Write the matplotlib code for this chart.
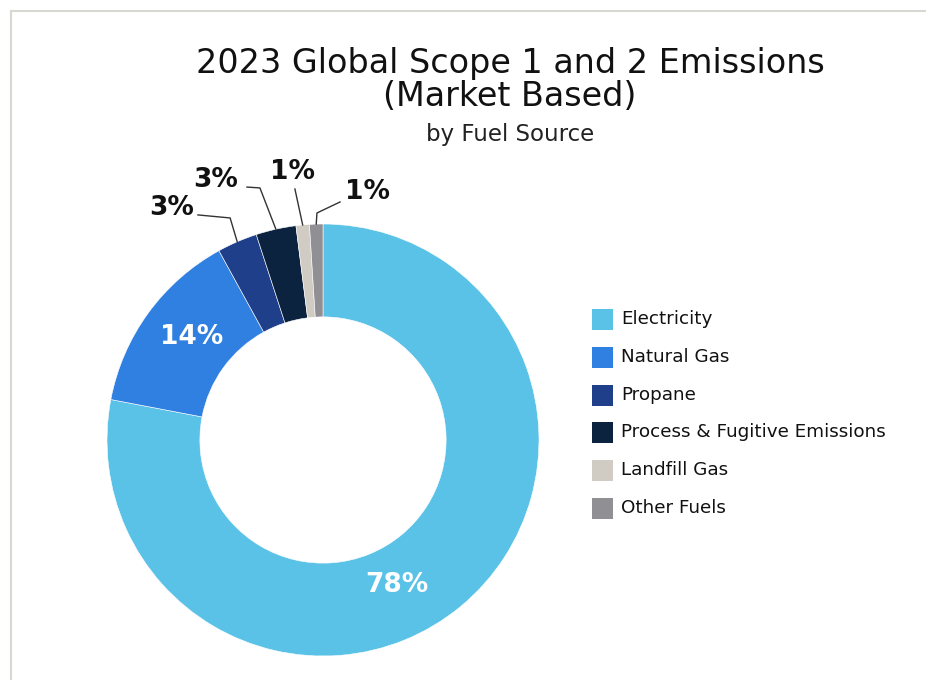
import matplotlib
matplotlib.use("Agg")
import matplotlib.pyplot as plt
from matplotlib.patches import Rectangle
import numpy as np

plt.rcParams["font.family"] = ["DejaVu Sans"]

# Emissions share by fuel source (%)
sources = ["Electricity", "Natural Gas", "Propane", "Process & Fugitive Emissions",
           "Landfill Gas", "Other Fuels"]
shares = [78, 14, 3, 3, 1, 1]
colors = ["#5BC2E7", "#2F80E0", "#1F3F8A", "#0C2340", "#D0CCC4", "#8F8F94"]

# label placement: inside labels for the big slices, leader lines for the small ones
inside_pos = {0: (0.343, -0.671), 1: (-0.606, 0.477)}
outside_pos = {
    2: [(-0.43, 1.028), (-0.579, 1.042)],
    3: [(-0.292, 1.167), (-0.352, 1.171)],
    4: [(-0.130, 1.162)],
    5: [(-0.028, 1.051), (0.079, 1.102)],
}
outside_text = {2: (-0.700, 1.075), 3: (-0.497, 1.205), 4: (-0.142, 1.240), 5: (0.205, 1.146)}

W, H = 926, 680
fig = plt.figure(figsize=(W / 100, H / 100), dpi=100)

# light frame along the top and left edges
fig.add_artist(plt.Line2D([11 / W, 11 / W], [0, 1 - 11 / H], transform=fig.transFigure,
                          color="#D9D7D1", lw=1.5))
fig.add_artist(plt.Line2D([11 / W, 1], [1 - 11 / H, 1 - 11 / H], transform=fig.transFigure,
                          color="#D9D7D1", lw=1.5))

fig.text(510 / W, 1 - 63 / H, "2023 Global Scope 1 and 2 Emissions", ha="center", va="center",
         fontsize=24, color="#111111")
fig.text(510 / W, 1 - 96 / H, "(Market Based)", ha="center", va="center",
         fontsize=24, color="#111111")
fig.text(510 / W, 1 - 135 / H, "by Fuel Source", ha="center", va="center",
         fontsize=16.5, color="#222222")

R = 216
ax = fig.add_axes([(323 - R) / W, 1 - (440 + R) / H, 2 * R / W, 2 * R / H])
wedges, _ = ax.pie(shares, colors=colors, startangle=90, counterclock=False, radius=1,
                   wedgeprops=dict(width=0.43, edgecolor="white", linewidth=0.4))
ax.set_xlim(-1, 1)
ax.set_ylim(-1, 1)
ax.set_aspect("equal")
ax.axis("off")

for i, w in enumerate(wedges):
    label = f"{shares[i]}%"
    if i in inside_pos:
        x, y = inside_pos[i]
        ax.text(x, y, label, ha="center", va="center", color="white",
                fontsize=19, fontweight="bold")
    else:
        mid = np.deg2rad((w.theta1 + w.theta2) / 2)
        pts = [(np.cos(mid), np.sin(mid))] + outside_pos[i]
        xs, ys = zip(*pts)
        ax.plot(xs, ys, color="#333333", lw=1, clip_on=False)
        tx, ty = outside_text[i]
        ax.text(tx, ty, label, ha="center", va="center", color="#111111",
                fontsize=19, fontweight="bold", clip_on=False)

# legend
for i, (name, c) in enumerate(zip(sources, colors)):
    yc = 319 + i * 37.8
    fig.add_artist(Rectangle((592 / W, 1 - (yc + 11) / H), 21 / W, 21 / H,
                             transform=fig.transFigure, facecolor=c, edgecolor="none"))
    fig.text(621 / W, 1 - yc / H, name, ha="left", va="center", fontsize=13.2, color="#111111")

fig.savefig("out.png", dpi=100)
